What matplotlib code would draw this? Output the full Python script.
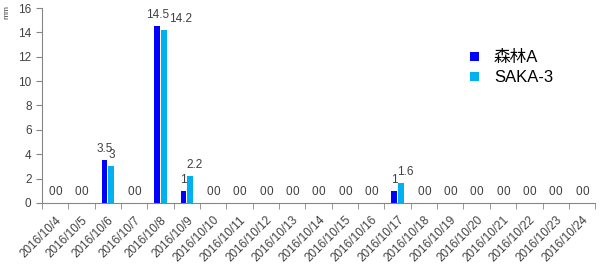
import numpy as np
import matplotlib.pyplot as plt
import matplotlib.transforms as mtransforms

plt.rcParams['font.family'] = ['Liberation Sans', 'Noto Sans CJK JP', 'DejaVu Sans']

# -----------------------------
# Data
# -----------------------------
dates = ["2016/10/4", "2016/10/5", "2016/10/6", "2016/10/7", "2016/10/8",
         "2016/10/9", "2016/10/10", "2016/10/11", "2016/10/12", "2016/10/13",
         "2016/10/14", "2016/10/15", "2016/10/16", "2016/10/17", "2016/10/18",
         "2016/10/19", "2016/10/20", "2016/10/21", "2016/10/22", "2016/10/23",
         "2016/10/24"]
forest_a = [0, 0, 3.5, 0, 14.5, 1, 0, 0, 0, 0, 0, 0, 0, 1, 0, 0, 0, 0, 0, 0, 0]
saka_3 = [0, 0, 3, 0, 14.2, 2.2, 0, 0, 0, 0, 0, 0, 0, 1.6, 0, 0, 0, 0, 0, 0, 0]

c_a = "#0000FF"
c_s = "#00B0F0"
gray = "#868686"
txt = "#404040"

# -----------------------------
# Plot
# -----------------------------
fig = plt.figure(figsize=(6, 2.67), dpi=100)
ax = fig.add_axes([0.07, 0.24, 0.922, 0.73])

x = np.arange(len(dates))
w = 0.22
gap = 0.04
ax.bar(x - w / 2 - gap / 2, forest_a, w, color=c_a, label="森林A")
ax.bar(x + w / 2 + gap / 2, saka_3, w, color=c_s, label="SAKA-3")

# value labels
for i in range(len(x)):
    ax.annotate(f"{forest_a[i]:g}", (x[i] - w / 2 - gap / 2, forest_a[i]),
                xytext=(0, 8), textcoords="offset points",
                ha="center", va="center", fontsize=8.5, color=txt)
    dx = 0
    ha = "center"
    if saka_3[i] > 10:
        dx, ha = 2, "left"
    elif saka_3[i] > 1.5 and forest_a[i] > 0 and forest_a[i] < saka_3[i]:
        dx = 3
    ax.annotate(f"{saka_3[i]:g}", (x[i] + w / 2 + gap / 2 + (0.1 if ha == "left" else 0), saka_3[i]),
                xytext=(dx, 8), textcoords="offset points",
                ha=ha, va="center", fontsize=8.5, color=txt)

ax.set_xlim(-0.5, len(dates) - 0.5)
ax.set_ylim(0, 16)
ax.set_yticks(np.arange(0, 17, 2))
ax.set_xticks(x)
ax.set_xticklabels(dates, rotation=45, ha="right", rotation_mode="anchor", fontsize=8.5, color=txt)
shift = mtransforms.ScaledTranslation(-9 / 100, 0, fig.dpi_scale_trans)
for lab in ax.get_xticklabels():
    lab.set_transform(lab.get_transform() + shift)
ax.set_xticks(np.arange(-0.5, len(dates), 1), minor=True)
ax.tick_params(axis="x", which="major", length=0, pad=8)
ax.tick_params(axis="x", which="minor", length=4, color=gray, direction="out")
ax.tick_params(axis="y", length=4, color=gray, labelsize=8.5, labelcolor=txt)

for s in ["top", "right"]:
    ax.spines[s].set_visible(False)
for s in ["left", "bottom"]:
    ax.spines[s].set_color(gray)

fig.text(0.012, 0.955, "mm", rotation=90, fontsize=6, color=txt, ha="center", va="center")

fig.legend(loc="upper left", bbox_to_anchor=(0.758, 0.868), frameon=False,
           fontsize=12, handlelength=0.55, handleheight=0.5, handletextpad=0.9,
           labelspacing=0.3)

plt.savefig("out.png", dpi=100)
